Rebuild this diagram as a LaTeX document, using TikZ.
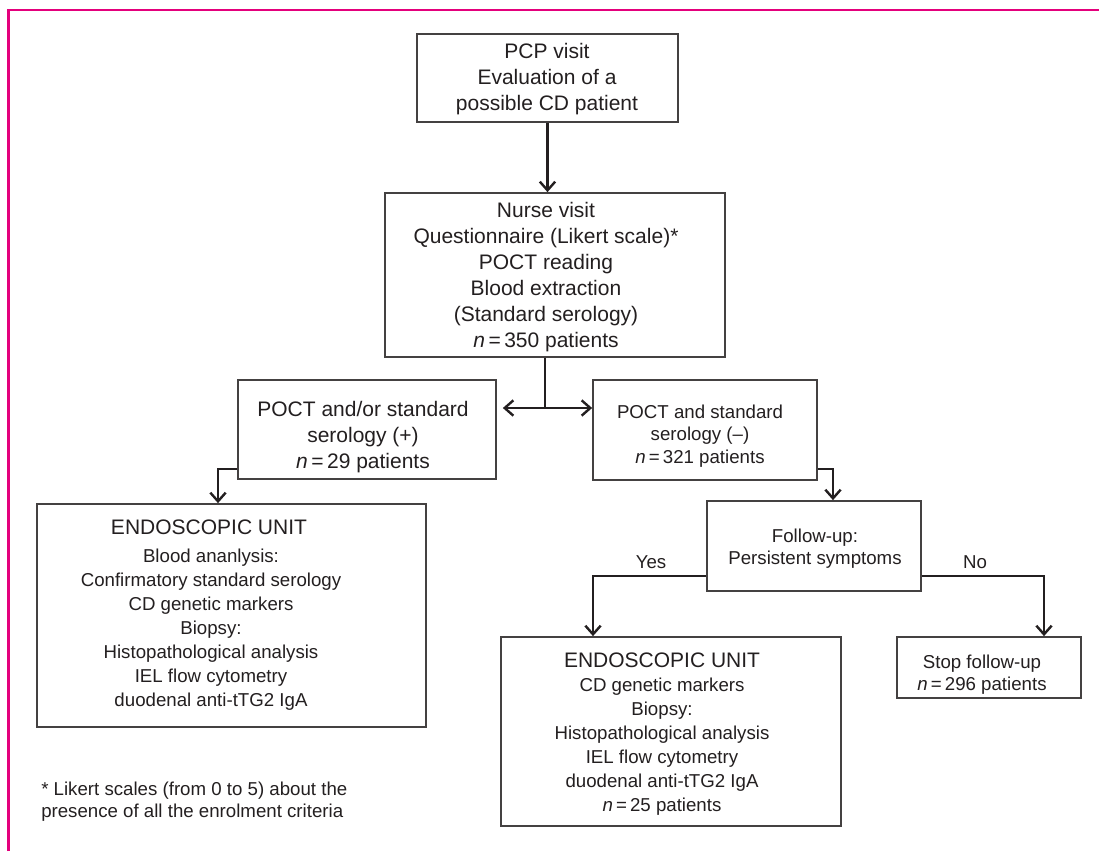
\documentclass[tikz,border=0pt]{standalone}
\usepackage{fontspec}
\setmainfont{Liberation Sans}
\usetikzlibrary{arrows.meta,calc,shadows}
\definecolor{magentaframe}{HTML}{E4007C}
\definecolor{ink}{HTML}{231F20}
\begin{document}
\begin{tikzpicture}[x=0.75pt,y=-0.75pt,
  box/.style={draw=ink!85, line width=1.3pt, fill=white, inner sep=0pt,
    drop shadow={shadow xshift=1.1pt,shadow yshift=-1.1pt,opacity=0.22}},
  bigtxt/.style={font=\fontsize{15.75}{19.5}\selectfont, align=center, text=ink, inner sep=0pt},
  smalltxt/.style={font=\fontsize{14}{18}\selectfont, align=center, text=ink, inner sep=0pt},
  arr/.style={draw=ink, line width=1.8pt, -{Straight Barb[length=6.5pt,width=11.5pt,line width=1.8pt]}},
  plain/.style={draw=ink, line width=1.8pt}]
\useasboundingbox (0,0) rectangle (1099,851);
% frame
\draw[magentaframe, line width=1.6pt] (8.5,851) -- (8.5,10) -- (1099,10);

% boxes
\node[box, minimum width=195.75pt, minimum height=66pt] (b1) at (547.5,78) {};
\node[box, minimum width=255pt, minimum height=123pt] (b2) at (555,275) {};
\node[box, minimum width=193.5pt, minimum height=74.25pt] (b3) at (367,429.5) {};
\node[box, minimum width=168pt, minimum height=75pt] (b4) at (705,430) {};
\node[box, minimum width=160.5pt, minimum height=67.5pt] (b5) at (814,546) {};
\node[box, minimum width=291.75pt, minimum height=167.25pt] (b6) at (231.5,615.5) {};
\node[box, minimum width=255pt, minimum height=141.75pt] (b7) at (671,731.5) {};
\node[box, minimum width=138pt, minimum height=45.75pt] (b8) at (989,667.5) {};

% texts
\node[bigtxt] (t1) at (547,79) {PCP visit\\Evaluation of a\\possible CD patient};
\node[bigtxt] (t2) at (546,277) {Nurse visit\\Questionnaire (Likert scale)*\\POCT reading\\Blood extraction\\(Standard serology)\\\textit{n}\,=\,350 patients};
\node[bigtxt] (t3) at (363,437) {POCT and/or standard\\serology (+)\\\textit{n}\,=\,29 patients};
\node[smalltxt, font=\fontsize{14}{16.9}\selectfont] (t4) at (700,436) {POCT and standard\\serology (–)\\\textit{n}\,=\,321 patients};
\node[smalltxt, font=\fontsize{14}{16.5}\selectfont] (t5) at (815,549) {Follow-up:\\Persistent symptoms};
\node[bigtxt] (t6a) at (209,527) {ENDOSCOPIC UNIT};
\node[smalltxt] (t6b) at (211,630) {Blood ananlysis:\\Confirmatory standard serology\\CD genetic markers\\Biopsy:\\Histopathological analysis\\IEL flow cytometry\\duodenal anti-tTG2 IgA};
\node[bigtxt] (t7a) at (662,660) {ENDOSCOPIC UNIT};
\node[smalltxt] (t7b) at (662,747) {CD genetic markers\\Biopsy:\\Histopathological analysis\\IEL flow cytometry\\duodenal anti-tTG2 IgA\\\textit{n}\,=\,25 patients};
\node[smalltxt, font=\fontsize{14}{16.5}\selectfont] (t8) at (982,675) {Stop follow-up\\\textit{n}\,=\,296 patients};
\node[smalltxt] (yes) at (651,562) {Yes};
\node[smalltxt] (no) at (975,562) {No};
\node[smalltxt, font=\fontsize{14}{16.5}\selectfont, align=left, anchor=west] (fn) at (41,802) {* Likert scales (from 0 to 5) about the\\presence of all the enrolment criteria};

% connectors
\draw[arr] (b1.south) -- (b1.south |- b2.north);
\coordinate (sp) at (545,408);
\draw[plain] (sp |- b2.south) -- (sp);
\draw[arr, shorten >=4.5pt] (sp) -- (sp -| b3.east);
\draw[arr] (sp) -- (sp -| b4.west);
\draw[arr] ($(b3.south west)+(0,-11)$) -| ($(b6.north)+(-13.5,0)$);
\draw[arr] ($(b4.south east)+(0,-12)$) -| ($(b5.north)+(19,0)$);
\draw[arr] ($(b5.south west)+(0,-16)$) -| ($(b7.north)+(-78,0)$);
\draw[arr] ($(b5.south east)+(0,-16)$) -| ($(b8.north)+(55,0)$);
\end{tikzpicture}
\end{document}
